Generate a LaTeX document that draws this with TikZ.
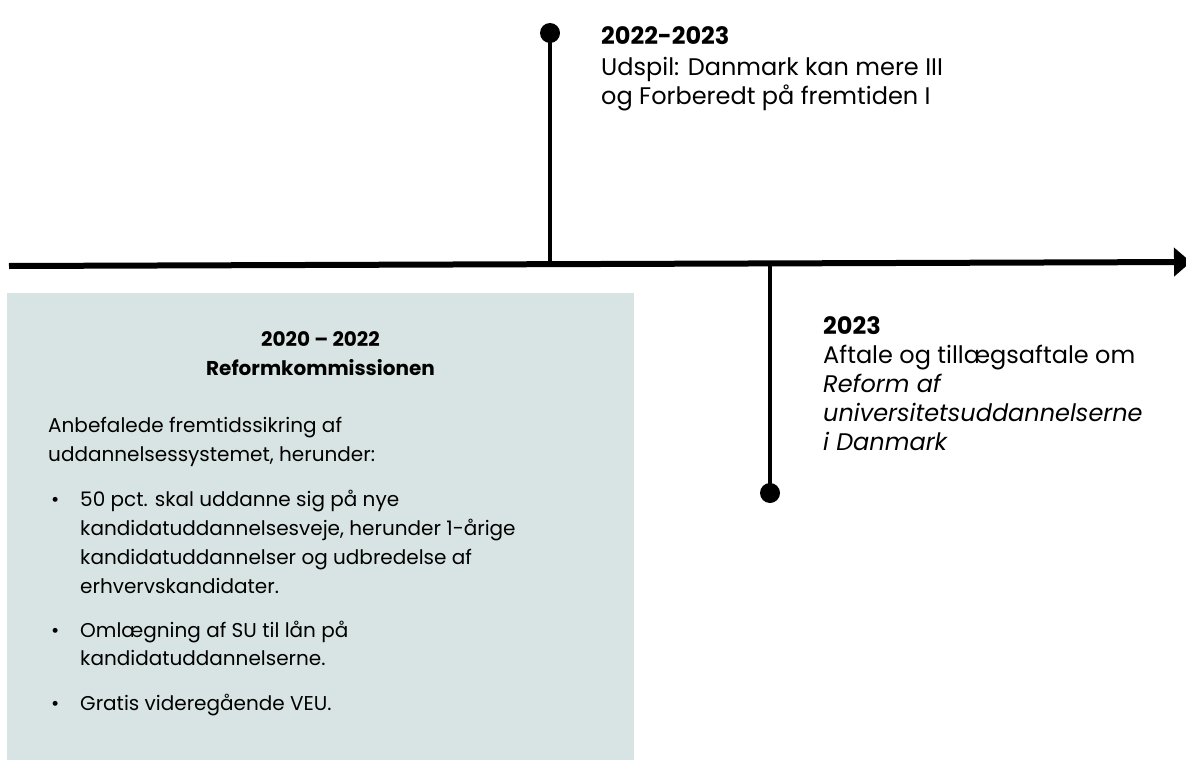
\documentclass[tikz,border=0pt]{standalone}
\usepackage{fontspec}
\setmainfont{Poppins}
\usetikzlibrary{arrows.meta}
\definecolor{boxfill}{RGB}{216,228,227}
\begin{document}
\begin{tikzpicture}[x=1pt,y=-1pt,
  txt/.style={anchor=base west, inner sep=0pt, font=\fontsize{20}{29}\selectfont},
  big/.style={anchor=base west, inner sep=0pt, font=\fontsize{24}{30}\selectfont},
  hd/.style={big, font=\fontsize{24}{30}\selectfont\bfseries},
  ctr/.style={anchor=base, inner sep=0pt, font=\fontsize{20}{29}\selectfont\bfseries},
  dot/.style={circle, fill=black, inner sep=0pt, minimum size=20pt},
  stem/.style={line width=4.5pt},
  axis/.style={line width=6pt, -{Triangle[length=17pt,width=28pt]}}]
\useasboundingbox (0,0) rectangle (1186,760);
% box
\node[fill=boxfill, inner sep=0pt, minimum width=627pt, minimum height=470pt, anchor=north west] (box) at (7,293) {};
% axis
\coordinate (L) at (9,266);
\coordinate (R) at (1191,262);
\draw[axis] (L) -- (R);
% upper event
\node[dot] (d1) at (550,33) {};
\coordinate (j1) at (550,264);
\draw[stem] (d1.center) -- (j1);
% lower event
\coordinate (j2) at (770,264);
\node[dot] (d2) at (770,493) {};
\draw[stem] (j2) -- (d2.center);
% upper text
\node[hd]  (t1) at (601,45) {2022-2023};
\node[big] (t2) at (601,75) {Udspil: Danmark kan mere III};
\node[big] (t3) at (601,104) {og Forberedt på fremtiden I};
% right text
\node[hd]  (r1) at (823,334) {2023};
\node[big] (r2) at (823,363) {Aftale og tillægsaftale om};
\node[big] (r3) at (823,392) {\itshape Reform af};
\node[big] (r4) at (823,421) {\itshape universitetsuddannelserne};
\node[big] (r5) at (823,450) {\itshape i Danmark};
% box text
\node[ctr] (b1) at (320.5,346) {2020 – 2022};
\node[ctr] (b2) at (320.5,375) {Reformkommissionen};
\node[txt] (b3) at (48,432) {Anbefalede fremtidssikring af};
\node[txt] (b4) at (48,461) {uddannelsessystemet, herunder:};
\node[txt] (p1) at (51,506) {•};
\node[txt] (b5) at (80,506) {50 pct. skal uddanne sig på nye};
\node[txt] (b6) at (80,535) {kandidatuddannelsesveje, herunder 1-årige};
\node[txt] (b7) at (80,564) {kandidatuddannelser og udbredelse af};
\node[txt] (b8) at (80,593) {erhvervskandidater.};
\node[txt] (p2) at (51,637) {•};
\node[txt] (b9) at (80,637) {Omlægning af SU til lån på};
\node[txt] (b10) at (80,665) {kandidatuddannelserne.};
\node[txt] (p3) at (51,710) {•};
\node[txt] (b11) at (80,710) {Gratis videregående VEU.};
\end{tikzpicture}
\end{document}
